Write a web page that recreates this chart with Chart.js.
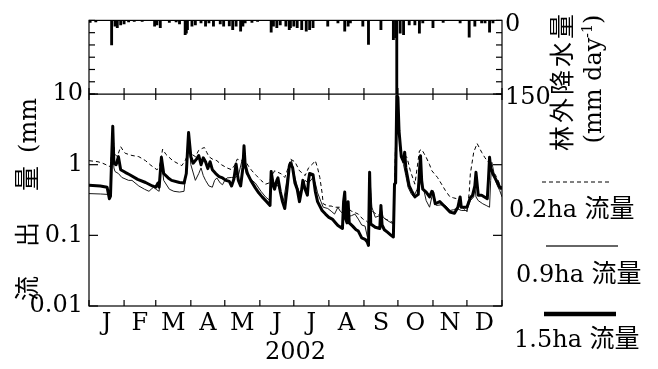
<!DOCTYPE html>
<html><head><meta charset="utf-8">
<script src="https://cdn.jsdelivr.net/npm/chart.js@4/dist/chart.umd.min.js"></script>
<style>
html,body{margin:0;padding:0;background:#fff;}
#wrap{position:relative;width:658px;height:369px;overflow:hidden;background:#fff;}
canvas{position:absolute;left:0;top:0;}
.t{position:absolute;white-space:nowrap;color:#000;font-family:'DejaVu Serif','Noto Sans CJK JP',serif;font-size:24px;line-height:28px;}
.rot{transform-origin:0 0;transform:rotate(-90deg);}
.cj{font-family:'Noto Sans CJK JP',sans-serif;font-size:25px;line-height:28px;}
sup{font-size:14px;line-height:0;vertical-align:9px;}
</style></head><body>
<div id="wrap">
<canvas id="c" width="658" height="369"></canvas>
<div class="t rot" style="left:11px;top:301px;"><span class="cj">流</span><span class="cj" style="margin-left:29px">出</span><span class="cj" style="margin-left:31px">量</span><span style="margin-left:13px">(mm</span></div>
<div class="t rot" style="left:546px;top:161px;width:160px;text-align:center;"><span class="cj" style="letter-spacing:3px">林外降水量</span></div>
<div class="t rot" style="left:579px;top:159px;width:160px;text-align:center;">(mm day<sup>-1</sup>)</div>
<div class="t" style="left:509px;top:192px;">0.2ha <span class="cj">流量</span></div>
<div class="t" style="left:516px;top:257px;">0.9ha <span class="cj">流量</span></div>
<div class="t" style="left:514px;top:322px;">1.5ha <span class="cj">流量</span></div>
</div>
<script>
// ---- data (day of year 2002, value) ----
const monthStarts = [0,31,59,90,120,151,181,212,243,273,304,334,365];
const monthLabels = ['J','F','M','A','M','J','J','A','S','O','N','D'];
const yearLabel = '2002';
const flowTicks = [0.01,0.1,1,10];
const flowTickLabels = ['0.01','0.1','1','10'];
const rainTicks = [0,25,50,75,100,125,150];
const rainTickLabels = {0:'0',150:'150'};

// 林外降水量 (mm/day)
const rain = [[1,4],[6,3],[20,50],[23,12],[25,15],[28,9],[31,7],[35,3],[40,2],[47,2],[58,12],[60,9],[63,15],[71,4],[77,3],[80,7],[85,29],[86,26],[87,19],[91,12],[94,9],[99,5],[103,12],[106,5],[110,12],[116,7],[119,12],[124,11],[127,19],[130,12],[134,22],[136,12],[138,5],[144,4],[149,2],[161,24],[163,12],[166,15],[169,9],[174,12],[177,19],[178,15],[181,12],[184,15],[188,19],[192,22],[195,19],[198,15],[211,12],[220,5],[226,22],[229,12],[231,5],[242,12],[247,49],[258,19],[269,39],[271,35],[272,156],[275,26],[278,29],[283,9],[288,9],[292,26],[295,5],[304,15],[313,4],[328,5],[336,34],[341,12],[347,5],[350,5],[354,24],[357,5]];

// 1.5ha 流量 (mm/day)
const flow15 = [[0,0.51],[10,0.5],[16,0.48],[18,0.33],[19,0.36],[20,1.2],[21,3.5],[22,1.05],[24,1.0],[26,1.3],[28,0.85],[32,0.78],[36,0.72],[43,0.62],[50,0.56],[56,0.5],[59,0.48],[61,0.55],[62,0.48],[64,1.27],[66,0.75],[70,0.65],[73,0.6],[80,0.56],[84,0.55],[86,0.75],[87,1.5],[88,2.85],[90,1.3],[92,1.05],[95,1.2],[97,1.35],[99,1.0],[101,1.25],[103,1.1],[105,0.88],[107,1.1],[109,0.85],[112,0.75],[115,0.68],[118,0.65],[121,0.6],[124,0.58],[126,0.5],[128,0.62],[130,1.02],[132,0.6],[134,0.5],[136,0.9],[137,1.85],[138,1.0],[140,0.75],[143,0.6],[147,0.47],[150,0.4],[153,0.35],[157,0.3],[160,0.265],[161,0.8],[163,0.5],[164,0.45],[166,0.6],[167,0.65],[169,0.42],[171,0.3],[173,0.24],[175,0.45],[177,0.95],[178,1.05],[180,0.9],[182,0.55],[184,0.45],[186,0.3],[188,0.45],[189,0.6],[191,0.45],[193,0.37],[194,0.6],[195,0.75],[198,0.72],[199,0.55],[200,0.42],[202,0.3],[206,0.225],[209,0.2],[212,0.18],[215,0.17],[218,0.15],[220,0.138],[224,0.125],[225,0.3],[226,0.41],[227,0.17],[228,0.15],[229,0.3],[230,0.15],[233,0.135],[236,0.12],[238,0.115],[241,0.092],[244,0.088],[246,0.08],[247,0.072],[248,0.78],[249,0.145],[253,0.13],[257,0.125],[258,0.265],[259,0.14],[261,0.12],[264,0.11],[267,0.1],[269,0.095],[270,0.53],[271,0.55],[272,9.4],[273,9.0],[274,3.0],[275,1.95],[276,1.3],[278,1.1],[279,1.5],[280,0.9],[281,0.74],[283,0.5],[285,0.43],[288,0.35],[291,0.38],[292,0.8],[293,1.34],[294,0.6],[295,0.45],[298,0.41],[301,0.35],[303,0.42],[304,0.4],[306,0.28],[310,0.3],[315,0.25],[319,0.214],[323,0.205],[326,0.25],[328,0.35],[329,0.25],[334,0.25],[337,0.34],[339,0.37],[341,0.5],[342,0.78],[344,0.37],[347,0.37],[352,0.33],[353,0.6],[354,1.27],[355,0.9],[357,0.74],[360,0.6],[363,0.48],[365,0.45]];

// 0.9ha 流量 (mm/day)
const flow09 = [[0,0.39],[10,0.385],[16,0.38],[19,0.36],[20,1.0],[21,2.2],[22,0.9],[23,0.8],[26,0.75],[29,0.66],[35,0.6],[38,0.6],[44,0.5],[49,0.45],[53,0.42],[55,0.45],[57,0.48],[60,0.44],[62,0.42],[64,1.2],[66,0.6],[71,0.45],[75,0.42],[80,0.41],[84,0.42],[86,0.9],[87,1.1],[88,2.5],[90,1.0],[94,0.6],[97,0.75],[99,0.9],[101,0.7],[103,0.6],[106,0.5],[109,0.48],[111,0.6],[113,0.65],[116,0.55],[118,0.52],[120,0.6],[122,0.65],[126,0.66],[129,0.66],[132,0.7],[136,1.3],[139,0.75],[143,0.62],[147,0.55],[152,0.42],[156,0.35],[160,0.31],[161,0.6],[164,0.55],[167,0.5],[170,0.38],[172,0.31],[174,0.5],[176,0.8],[179,1.15],[182,0.66],[184,0.5],[186,0.4],[189,0.5],[191,0.6],[194,0.55],[198,0.66],[200,0.55],[202,0.4],[205,0.3],[207,0.25],[211,0.24],[214,0.22],[217,0.2],[220,0.25],[222,0.22],[225,0.2],[229,0.185],[232,0.19],[235,0.2],[238,0.17],[241,0.14],[244,0.135],[246,0.095],[247,0.095],[248,0.75],[250,0.25],[253,0.18],[257,0.19],[258,0.25],[260,0.18],[263,0.165],[266,0.154],[269,0.145],[270,0.5],[272,9.0],[273,7.0],[275,1.57],[278,1.0],[280,0.7],[282,0.48],[285,0.38],[287,0.35],[290,0.45],[292,0.66],[294,0.5],[296,0.43],[298,0.31],[301,0.25],[303,0.35],[304,0.43],[306,0.3],[307,0.265],[311,0.27],[315,0.265],[319,0.225],[322,0.23],[325,0.24],[329,0.225],[334,0.225],[336,0.28],[337,0.31],[340,0.35],[341,0.5],[342,0.35],[344,0.31],[348,0.28],[351,0.265],[354,0.25],[355,0.6],[356,1.08],[358,0.75],[359,0.6],[361,0.5],[363,0.43],[365,0.35]];

// 0.2ha 流量 (mm/day)
const flow02 = [[0,1.14],[8,1.1],[12,1.05],[15,1.0],[17,0.95],[19,0.95],[20,1.5],[21,2.5],[23,1.4],[25,1.3],[28,1.8],[30,1.6],[32,1.45],[38,1.35],[44,1.3],[50,1.14],[54,1.0],[57,0.92],[60,0.85],[62,0.9],[64,1.3],[65,1.66],[68,1.4],[74,1.14],[78,1.05],[82,0.97],[85,1.14],[88,1.5],[91,1.4],[94,1.3],[97,1.6],[100,1.7],[102,1.75],[104,1.5],[106,1.3],[109,1.2],[113,1.14],[117,1.0],[122,0.9],[126,0.85],[129,1.0],[131,1.2],[134,1.15],[138,1.14],[141,0.95],[144,0.82],[148,0.7],[152,0.6],[156,0.53],[159,0.55],[161,0.66],[164,0.82],[167,0.78],[170,0.74],[173,0.66],[176,0.9],[178,1.2],[182,1.1],[186,0.82],[189,0.75],[191,0.7],[194,0.9],[197,1.0],[200,1.14],[202,0.9],[204,0.66],[206,0.4],[207,0.28],[211,0.26],[214,0.26],[217,0.25],[222,0.25],[226,0.25],[229,0.24],[232,0.22],[235,0.21],[238,0.2],[242,0.17],[245,0.16],[247,0.15],[248,0.6],[250,0.22],[254,0.2],[258,0.19],[262,0.17],[266,0.16],[269,0.15],[270,0.5],[272,9.0],[273,7.0],[275,1.6],[276,1.42],[279,1.35],[281,1.27],[284,0.82],[288,0.53],[290,0.9],[292,1.57],[294,1.65],[296,1.45],[298,1.27],[301,1.0],[303,0.82],[306,0.72],[308,0.66],[311,0.55],[315,0.43],[319,0.35],[322,0.34],[325,0.33],[329,0.265],[332,0.23],[334,0.214],[336,0.4],[337,0.74],[340,1.5],[343,2.0],[347,1.5],[350,1.25],[353,1.08],[357,0.82],[360,0.68],[363,0.53],[365,0.48]];

const monthMids = monthLabels.map((_, i) => (monthStarts[i] + monthStarts[i + 1]) / 2);
const toXY = arr => arr.map(p => ({x: p[0], y: p[1]}));
const F = {family: "'DejaVu Serif', serif", size: 24, lineHeight: 1.2};

const framePlugin = {
  id: 'frame',
  afterDraw(chart) {
    const {ctx, chartArea: a, scales: s} = chart;
    const mid = s.rL.bottom;
    ctx.save();
    ctx.strokeStyle = '#000';
    ctx.lineWidth = 1.2;
    const seg = (x1, y1, x2, y2) => { ctx.beginPath(); ctx.moveTo(x1, y1); ctx.lineTo(x2, y2); ctx.stroke(); };
    ctx.strokeRect(a.left, a.top, a.right - a.left, a.bottom - a.top);
    seg(a.left, mid, a.right, mid);
    monthStarts.forEach(d => {
      const x = s.x.getPixelForValue(d);
      seg(x, a.bottom, x, a.bottom - 6);
      seg(x, mid - 6, x, mid + 6);
    });
    rainTicks.forEach(v => {
      const y = s.rL.getPixelForValue(v);
      seg(a.left, y, a.left + 6, y);
      const y2 = s.rR.getPixelForValue(v);
      seg(a.right, y2, a.right - 6, y2);
    });
    flowTicks.forEach(v => {
      const y = s.yL.getPixelForValue(v);
      seg(a.left, y, a.left + 9, y);
      const y2 = s.yR.getPixelForValue(v);
      seg(a.right, y2, a.right - 9, y2);
    });
    // legend samples
    ctx.lineWidth = 1;
    ctx.setLineDash([4, 3]);
    seg(542, 182, 612, 182);
    ctx.setLineDash([]);
    ctx.lineWidth = 1.3;
    ctx.strokeStyle = '#333';
    seg(546, 246, 618, 246);
    ctx.strokeStyle = '#000';
    ctx.lineWidth = 4.5;
    seg(544, 314, 616, 314);
    ctx.restore();
  }
};

new Chart(document.getElementById('c'), {
  type: 'line',
  data: {
    datasets: [
      {label: '1.5ha 流量', data: toXY(flow15), yAxisID: 'yL', xAxisID: 'x', borderColor: '#000', borderWidth: 3, pointRadius: 0, tension: 0, borderJoinStyle: 'round'},
      {label: '0.9ha 流量', data: toXY(flow09), yAxisID: 'yL', xAxisID: 'x', borderColor: '#1a1a1a', borderWidth: 1, pointRadius: 0, tension: 0},
      {label: '0.2ha 流量', data: toXY(flow02), yAxisID: 'yL', xAxisID: 'x', borderColor: '#000', borderWidth: 1, borderDash: [4, 3], pointRadius: 0, tension: 0},
      {type: 'bar', label: '林外降水量', data: toXY(rain), yAxisID: 'rR', xAxisID: 'x', backgroundColor: '#000', borderWidth: 0, barThickness: 2.2}
    ]
  },
  options: {
    responsive: false, animation: false, devicePixelRatio: 1,
    layout: {padding: {top: 19, left: 0, right: 0, bottom: 0}},
    plugins: {legend: {display: false}, tooltip: {enabled: false}},
    scales: {
      x: {
        type: 'linear', min: 0, max: 365, offset: false, position: 'bottom',
        grid: {display: false, drawTicks: false, offset: false}, border: {display: false},
        afterBuildTicks: sc => { sc.ticks = monthMids.map(v => ({value: v})); },
        afterFit: sc => { sc.height = 63; },
        ticks: {autoSkip: false, maxRotation: 0, minRotation: 0, padding: 3, color: '#000', font: F,
                callback: (v, i) => monthLabels[i]},
        title: {display: true, text: yearLabel, color: '#000', font: F, padding: {top: 0, bottom: 2}}
      },
      yL: {
        type: 'logarithmic', position: 'left', stack: 'L', stackWeight: 213, weight: 0, min: 0.01, max: 10,
        grid: {display: false, drawTicks: false}, border: {display: false},
        afterBuildTicks: sc => { sc.ticks = flowTicks.map(v => ({value: v})); },
        afterFit: sc => { sc.width = 89; },
        ticks: {padding: 6, color: '#000', font: F, autoSkip: false,
                callback: (v) => flowTickLabels[flowTicks.indexOf(v)]}
      },
      rL: {
        type: 'linear', position: 'left', stack: 'L', stackWeight: 74, weight: 1, reverse: true, min: 0, max: 150,
        grid: {display: false, drawTicks: false}, border: {display: false},
        afterFit: sc => { sc.width = 89; },
        ticks: {display: false}
      },
      yR: {
        type: 'logarithmic', position: 'right', stack: 'R', stackWeight: 213, weight: 1, min: 0.01, max: 10,
        grid: {display: false, drawTicks: false}, border: {display: false},
        afterFit: sc => { sc.width = 156; },
        ticks: {display: false}
      },
      rR: {
        type: 'linear', position: 'right', stack: 'R', stackWeight: 74, weight: 0, reverse: true, min: 0, max: 150,
        grid: {display: false, drawTicks: false}, border: {display: false},
        afterBuildTicks: sc => { sc.ticks = [0, 150].map(v => ({value: v})); },
        afterFit: sc => { sc.width = 156; },
        ticks: {padding: 3, labelOffset: 4, color: '#000', font: F, autoSkip: false,
                callback: (v) => rainTickLabels[v]}
      }
    }
  },
  plugins: [framePlugin]
});
</script>
</body></html>
